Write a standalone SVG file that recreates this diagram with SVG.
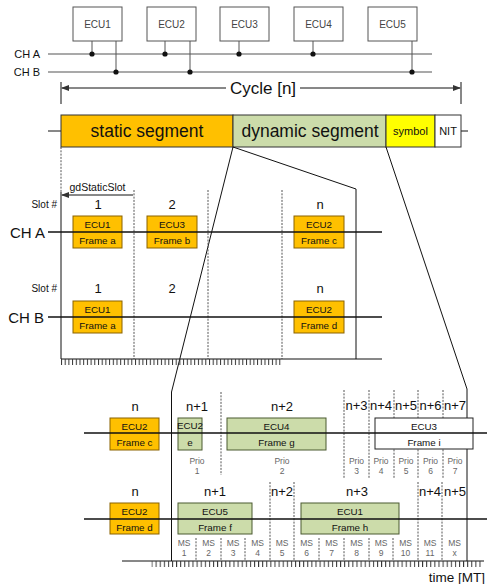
<svg xmlns="http://www.w3.org/2000/svg" width="487" height="584" viewBox="0 0 487 584">
<style>
text{font-family:"Liberation Sans",Arial,sans-serif;fill:#111}
.ecu rect{fill:#fff;stroke:#555;stroke-width:1}
.ecu text{font-size:10px;fill:#444;text-anchor:middle}
.bus{stroke:#555;stroke-width:1.2;fill:none}
.stub{stroke:#555;stroke-width:1}
.or{fill:#FFC000;stroke:#8a6200;stroke-width:1}
.gr{fill:#CCDCAA;stroke:#4b5a30;stroke-width:1}
.wh{fill:#fff;stroke:#222;stroke-width:1}
.bt{font-size:9.8px;text-anchor:middle}
.lbl{font-size:13px;text-anchor:middle}
.sm{font-size:8.5px;fill:#666;text-anchor:middle}
.dash{stroke:#555;stroke-width:1;stroke-dasharray:2 1.3;fill:none}
.ln{stroke:#111;stroke-width:1;fill:none}
.ch{stroke:#111;stroke-width:1.6}
</style>
<defs>
<marker id="ah" markerWidth="8" markerHeight="6" refX="7" refY="3" orient="auto" markerUnits="userSpaceOnUse"><path d="M0,0 L8,3 L0,6 z" fill="#333"/></marker>
<pattern id="tA" x="61" y="359" width="3.7" height="6" patternUnits="userSpaceOnUse"><line x1="0.5" y1="0" x2="0.5" y2="6" stroke="#333" stroke-width="1"/></pattern>
<pattern id="tB" x="151.5" y="561" width="4.1" height="6" patternUnits="userSpaceOnUse"><line x1="0.5" y1="0" x2="0.5" y2="6" stroke="#333" stroke-width="1"/></pattern>
</defs>

<!-- top topology -->
<g id="ecu1" class="ecu"><rect x="73" y="7" width="49" height="34"/><text x="97.5" y="28">ECU1</text></g>
<g id="ecu2" class="ecu"><rect x="147" y="7" width="49" height="34"/><text x="171.5" y="28">ECU2</text></g>
<g id="ecu3" class="ecu"><rect x="220" y="7" width="49" height="34"/><text x="244.5" y="28">ECU3</text></g>
<g id="ecu4" class="ecu"><rect x="294" y="7" width="49" height="34"/><text x="318.5" y="28">ECU4</text></g>
<g id="ecu5" class="ecu"><rect x="368" y="7" width="49" height="34"/><text x="392.5" y="28">ECU5</text></g>
<g id="buses">
<line class="bus" x1="48" y1="54" x2="432" y2="54"/>
<line class="bus" x1="48" y1="72" x2="432" y2="72"/>
<text x="40" y="58" font-size="11" text-anchor="end" fill="#222">CH A</text>
<text x="40" y="76" font-size="11" text-anchor="end" fill="#222">CH B</text>
</g>
<g id="connectors">
<line class="stub" x1="92" y1="41" x2="92" y2="54"/><circle cx="92" cy="54" r="2.6" fill="#111"/>
<line class="stub" x1="116" y1="41" x2="116" y2="72"/><circle cx="116" cy="72" r="2.6" fill="#111"/>
<line class="stub" x1="165" y1="41" x2="165" y2="54"/><circle cx="165" cy="54" r="2.6" fill="#111"/>
<line class="stub" x1="190" y1="41" x2="190" y2="72"/><circle cx="190" cy="72" r="2.6" fill="#111"/>
<line class="stub" x1="239" y1="41" x2="239" y2="54"/><circle cx="239" cy="54" r="2.6" fill="#111"/>
<line class="stub" x1="313" y1="41" x2="313" y2="54"/><circle cx="313" cy="54" r="2.6" fill="#111"/>
<line class="stub" x1="412" y1="41" x2="412" y2="72"/><circle cx="412" cy="72" r="2.6" fill="#111"/>
</g>

<!-- cycle -->
<g id="cycle">
<line class="ln" x1="61" y1="82" x2="61" y2="104"/>
<line class="ln" x1="461" y1="82" x2="461" y2="104"/>
<line class="ln" x1="226" y1="88" x2="62" y2="88" marker-end="url(#ah)"/>
<line class="ln" x1="300" y1="88" x2="460" y2="88" marker-end="url(#ah)"/>
<text x="263" y="94" font-size="17" text-anchor="middle" fill="#222">Cycle [n]</text>
</g>

<!-- segment bar -->
<g id="segments">
<line class="ln" x1="48" y1="131" x2="61" y2="131" stroke-width="1.5"/>
<line class="ln" x1="461" y1="131" x2="468" y2="131" stroke-width="1.5"/>
<rect x="61" y="115" width="172" height="32" fill="#FFC000" stroke="#333"/>
<rect x="233" y="115" width="153" height="32" fill="#CCDCAA" stroke="#333"/>
<rect x="386" y="115" width="49" height="32" fill="#FFFF00" stroke="#333"/>
<rect x="435" y="115" width="26" height="32" fill="#fff" stroke="#333"/>
<text x="147" y="137" font-size="17.5" text-anchor="middle">static segment</text>
<text x="310" y="137" font-size="17.5" text-anchor="middle" fill="#222">dynamic segment</text>
<text x="410.5" y="135" font-size="11" text-anchor="middle">symbol</text>
<text x="448" y="135" font-size="11" text-anchor="middle" fill="#555">NIT</text>
</g>

<!-- projection lines -->
<g id="projections">
<line class="dash" x1="61" y1="147" x2="61" y2="192"/>
<line class="ln" x1="61" y1="192" x2="61" y2="359"/>
<line class="ln" x1="233" y1="147" x2="356" y2="189"/>
<line class="ln" x1="356" y1="189" x2="356" y2="359"/>
<line class="ln" x1="233" y1="147" x2="171.5" y2="392"/>
<line class="ln" x1="171.5" y1="392" x2="171.5" y2="561"/>
<line class="ln" x1="386" y1="147" x2="467" y2="389"/>
<line class="ln" x1="467" y1="389" x2="467" y2="561"/>
</g>

<!-- static detail -->
<g id="static-detail">
<line class="dash" x1="134" y1="190" x2="134" y2="359"/>
<line class="dash" x1="208" y1="190" x2="208" y2="359"/>
<line class="dash" x1="282" y1="190" x2="282" y2="359"/>
<line class="ln" x1="61" y1="359" x2="382" y2="359"/>
<rect x="61" y="359" width="222" height="6" fill="url(#tA)"/>
<line class="ln" x1="96" y1="195" x2="62" y2="195" marker-end="url(#ah)"/>
<line class="ln" x1="96" y1="195" x2="133" y2="195"/>
<text x="97.5" y="191" font-size="10.5" text-anchor="middle" fill="#222">gdStaticSlot</text>
<text x="57" y="208" font-size="10" text-anchor="end" fill="#222">Slot #</text>
<text x="57" y="292" font-size="10" text-anchor="end" fill="#222">Slot #</text>
<text x="98" y="209" class="lbl">1</text>
<text x="172" y="209" class="lbl">2</text>
<text x="320" y="209" class="lbl">n</text>
<text x="98" y="293" class="lbl">1</text>
<text x="172" y="293" class="lbl">2</text>
<text x="320" y="293" class="lbl">n</text>
<text x="45" y="238" font-size="15" text-anchor="end">CH A</text>
<text x="44" y="323" font-size="15" text-anchor="end">CH B</text>
</g>
<g id="sA1"><rect class="or" x="73" y="216" width="49" height="32"/><text class="bt" x="97.5" y="228">ECU1</text><text class="bt" x="97.5" y="244">Frame a</text></g>
<g id="sA2"><rect class="or" x="147" y="216" width="50" height="32"/><text class="bt" x="172" y="228">ECU3</text><text class="bt" x="172" y="244">Frame b</text></g>
<g id="sAn"><rect class="or" x="294" y="216" width="50" height="32"/><text class="bt" x="319" y="228">ECU2</text><text class="bt" x="319" y="244">Frame c</text></g>
<g id="sB1"><rect class="or" x="73" y="301" width="49" height="32"/><text class="bt" x="97.5" y="313">ECU1</text><text class="bt" x="97.5" y="329">Frame a</text></g>
<g id="sBn"><rect class="or" x="294" y="301" width="50" height="32"/><text class="bt" x="319" y="313">ECU2</text><text class="bt" x="319" y="329">Frame d</text></g>
<g id="static-channels">
<line class="ch" x1="48" y1="232" x2="382" y2="232"/>
<line class="ch" x1="48" y1="317" x2="382" y2="317"/>
</g>

<!-- dynamic detail -->
<g id="dyn-grid">
<line class="dash" x1="221" y1="392" x2="221" y2="475"/>
<line class="dash" x1="344" y1="390" x2="344" y2="478"/>
<line class="dash" x1="369" y1="390" x2="369" y2="478"/>
<line class="dash" x1="394" y1="390" x2="394" y2="478"/>
<line class="dash" x1="418" y1="390" x2="418" y2="478"/>
<line class="dash" x1="443" y1="390" x2="443" y2="478"/>
<line class="dash" x1="270" y1="482" x2="270" y2="561"/>
<line class="dash" x1="294" y1="482" x2="294" y2="561"/>
<line class="dash" x1="418" y1="482" x2="418" y2="561"/>
<line class="dash" x1="442" y1="482" x2="442" y2="561"/>
<line class="dash" x1="196" y1="538" x2="196" y2="561"/>
<line class="dash" x1="221" y1="538" x2="221" y2="561"/>
<line class="dash" x1="245" y1="538" x2="245" y2="561"/>
<line class="dash" x1="319" y1="538" x2="319" y2="561"/>
<line class="dash" x1="344" y1="538" x2="344" y2="561"/>
<line class="dash" x1="369" y1="538" x2="369" y2="561"/>
<line class="dash" x1="393" y1="538" x2="393" y2="561"/>
<line class="ln" x1="122" y1="561" x2="484" y2="561"/>
<rect x="151.5" y="561" width="330" height="6" fill="url(#tB)"/>
<text x="485" y="582" font-size="13.5" text-anchor="end" fill="#222">time [MT]</text>
</g>
<g id="dyn-labels">
<text class="lbl" x="135" y="411">n</text>
<text class="lbl" x="197" y="411">n+1</text>
<text class="lbl" x="282" y="411">n+2</text>
<text class="lbl" x="356.5" y="410">n+3</text>
<text class="lbl" x="381" y="410">n+4</text>
<text class="lbl" x="406" y="410">n+5</text>
<text class="lbl" x="430.5" y="410">n+6</text>
<text class="lbl" x="455" y="410">n+7</text>
<text class="sm" x="197" y="464">Prio</text><text class="sm" x="197" y="474">1</text>
<text class="sm" x="282" y="464">Prio</text><text class="sm" x="282" y="474">2</text>
<text class="sm" x="356.5" y="464">Prio</text><text class="sm" x="356.5" y="474">3</text>
<text class="sm" x="381" y="464">Prio</text><text class="sm" x="381" y="474">4</text>
<text class="sm" x="406" y="464">Prio</text><text class="sm" x="406" y="474">5</text>
<text class="sm" x="430.5" y="464">Prio</text><text class="sm" x="430.5" y="474">6</text>
<text class="sm" x="455" y="464">Prio</text><text class="sm" x="455" y="474">7</text>
<text class="lbl" x="135" y="496">n</text>
<text class="lbl" x="215" y="496">n+1</text>
<text class="lbl" x="282" y="496">n+2</text>
<text class="lbl" x="357" y="496">n+3</text>
<text class="lbl" x="430" y="496">n+4</text>
<text class="lbl" x="455" y="496">n+5</text>
<text class="sm" x="184" y="546">MS</text><text class="sm" x="184" y="556">1</text>
<text class="sm" x="208.5" y="546">MS</text><text class="sm" x="208.5" y="556">2</text>
<text class="sm" x="233" y="546">MS</text><text class="sm" x="233" y="556">3</text>
<text class="sm" x="257.5" y="546">MS</text><text class="sm" x="257.5" y="556">4</text>
<text class="sm" x="282" y="546">MS</text><text class="sm" x="282" y="556">5</text>
<text class="sm" x="306.5" y="546">MS</text><text class="sm" x="306.5" y="556">6</text>
<text class="sm" x="331.5" y="546">MS</text><text class="sm" x="331.5" y="556">7</text>
<text class="sm" x="356.5" y="546">MS</text><text class="sm" x="356.5" y="556">8</text>
<text class="sm" x="381" y="546">MS</text><text class="sm" x="381" y="556">9</text>
<text class="sm" x="405.5" y="546">MS</text><text class="sm" x="405.5" y="556">10</text>
<text class="sm" x="430" y="546">MS</text><text class="sm" x="430" y="556">11</text>
<text class="sm" x="454.5" y="546">MS</text><text class="sm" x="454.5" y="556">x</text>
</g>
<g id="dA-c"><rect class="or" x="110" y="418" width="49" height="32"/><text class="bt" x="134.5" y="430">ECU2</text><text class="bt" x="134.5" y="446">Frame c</text></g>
<g id="dA-e"><rect class="gr" x="178" y="418" width="24" height="32"/><text class="bt" x="190" y="429" font-size="7.5" fill="#333">ECU2</text><text class="bt" x="190" y="446" font-size="8.5">e</text></g>
<g id="dA-g"><rect class="gr" x="227" y="418" width="99" height="32"/><text class="bt" x="276.5" y="430">ECU4</text><text class="bt" x="276.5" y="446">Frame g</text></g>
<g id="dA-i"><rect class="wh" x="375" y="418" width="98" height="31"/><text class="bt" x="424" y="430">ECU3</text><text class="bt" x="424" y="446">Frame i</text></g>
<g id="dB-d"><rect class="or" x="110" y="503" width="49" height="31"/><text class="bt" x="134.5" y="515">ECU2</text><text class="bt" x="134.5" y="531">Frame d</text></g>
<g id="dB-f"><rect class="gr" x="178" y="503" width="74" height="31"/><text class="bt" x="215" y="515">ECU5</text><text class="bt" x="215" y="531">Frame f</text></g>
<g id="dB-h"><rect class="gr" x="301" y="503" width="98" height="31"/><text class="bt" x="350" y="515">ECU1</text><text class="bt" x="350" y="531">Frame h</text></g>
<g id="dyn-channels">
<line class="ch" x1="84" y1="433" x2="487" y2="433"/>
<line class="ch" x1="84" y1="519" x2="487" y2="519"/>
</g>
</svg>
